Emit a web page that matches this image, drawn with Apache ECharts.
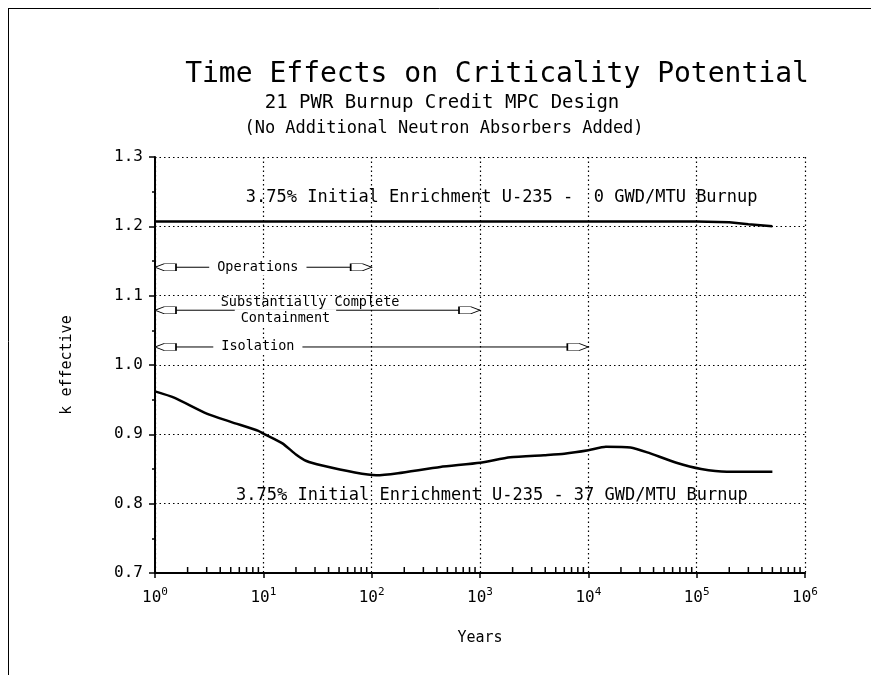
<!DOCTYPE html>
<html>
<head>
<meta charset="utf-8">
<script src="https://cdn.jsdelivr.net/npm/echarts@6/dist/echarts.min.js"></script>
<style>html,body{margin:0;padding:0;background:#fff}#c{width:871px;height:675px}</style>
</head>
<body>
<div id="c"></div>
<script>
// ---- data ----
const titleText = 'Time Effects on Criticality Potential';
const subtitle1 = '21 PWR Burnup Credit MPC Design';
const subtitle2 = '(No Additional Neutron Absorbers Added)';
const yTicks = [0.7, 0.8, 0.9, 1.0, 1.1, 1.2, 1.3];
const xDecades = [0, 1, 2, 3, 4, 5, 6];

const yearsFresh = [1, 100000, 200000, 300000, 500000];
const kFresh = [1.207, 1.207, 1.206, 1.203, 1.200];

const yearsBurned = [1, 1.5, 3, 5, 9, 10, 15, 20, 25, 35, 70, 110, 175, 430, 1000, 1900, 3900, 6000, 10000, 14500, 24500, 35000, 65000, 110000, 190000, 500000];
const kBurned = [0.962, 0.953, 0.930, 0.918, 0.905, 0.901, 0.887, 0.871, 0.8615, 0.855, 0.845, 0.841, 0.844, 0.853, 0.859, 0.867, 0.870, 0.872, 0.877, 0.882, 0.881, 0.874, 0.859, 0.850, 0.846, 0.846];

const curveLabels = ['3.75% Initial Enrichment U-235 -  0 GWD/MTU Burnup', '3.75% Initial Enrichment U-235 - 37 GWD/MTU Burnup'];

const periodNames = ['Operations', 'Substantially Complete\nContainment', 'Isolation'];
const periodStart = [1, 1, 1];
const periodEnd = [100, 1000, 10000];
const periodLevel = [1.141, 1.079, 1.026];

// ---- layout (not data) ----
const curveLabelAt = [[1585, 1.2408], [1290, 0.8123]];
// per label line: [x position (years), vertical offset in px]
const periodLabelAt = [[[8.9, 0]], [[27, -8], [16, 8]], [[8.9, 0]]];

const mono = '"DejaVu Sans Mono", monospace';
const minorTickYears = [];
for (let d = 0; d < 6; d++) for (let m = 2; m <= 9; m++) minorTickYears.push(m * Math.pow(10, d));

const leftArrow = 'path://M0,3.5 L9,0 L21,0 L21,7 L9,7 Z';
const rightArrow = 'path://M21,3.5 L12,0 L0,0 L0,7 L12,7 Z';

const series = [];
series.push({
  type: 'line', data: yearsFresh.map((x, i) => [x, kFresh[i]]),
  showSymbol: false, lineStyle: {color: '#000', width: 2.5}, z: 5, silent: true
});
series.push({
  type: 'line', data: yearsBurned.map((x, i) => [x, kBurned[i]]),
  showSymbol: false, smooth: 0.2, lineStyle: {color: '#000', width: 2.5}, z: 5, silent: true
});
periodNames.forEach((name, i) => {
  series.push({
    type: 'line', z: 6, silent: true,
    data: [
      {value: [periodStart[i], periodLevel[i]], symbol: leftArrow, symbolSize: [21, 7], symbolOffset: [10.5, 0]},
      {value: [periodEnd[i], periodLevel[i]], symbol: rightArrow, symbolSize: [21, 7], symbolOffset: [-10.5, 0]}
    ],
    showSymbol: true, showAllSymbol: true,
    lineStyle: {color: '#000', width: 1},
    itemStyle: {color: '#fff', borderColor: '#000', borderWidth: 1, opacity: 1}
  });
});
// period labels
const periodLabelData = [];
periodNames.forEach((n, i) => {
  const lines = n.split('\n');
  lines.forEach((ln, j) => {
    const at = periodLabelAt[i][j];
    const covers = (lines.length === 1) || j === 1;
    periodLabelData.push({
      value: [at[0], periodLevel[i]], name: ln,
      label: {
        offset: [0, at[1]],
        backgroundColor: covers ? '#fff' : 'transparent',
        padding: lines.length === 1 ? [1, 8] : (j === 1 ? [4, 6, 0, 6] : [0, 0])
      }
    });
  });
});
series.push({
  type: 'scatter', z: 8, silent: true, symbolSize: 0,
  itemStyle: {opacity: 1},
  data: periodLabelData,
  label: {
    show: true, position: 'inside', fontFamily: mono, fontSize: 13.5, color: '#000', opacity: 1,
    textBorderWidth: 0, formatter: p => p.name
  }
});
// curve labels
series.push({
  type: 'scatter', z: 8, silent: true, symbolSize: 0,
  itemStyle: {opacity: 1},
  data: curveLabels.map((n, i) => ({value: curveLabelAt[i], name: n})),
  label: {show: true, position: 'inside', fontFamily: mono, fontSize: 17, color: '#000', opacity: 1, textBorderWidth: 0, formatter: p => p.name}
});
// minor ticks on log axis
series.push({
  type: 'scatter', z: 9, silent: true,
  data: minorTickYears.map(x => [x, 0.7]),
  symbol: 'rect', symbolSize: [1.5, 5], symbolOffset: [0, -3.5],
  itemStyle: {color: '#000', opacity: 1}
});

const option = {
  animation: false,
  backgroundColor: '#fff',
  grid: {left: 155, right: 66, top: 157, bottom: 102},
  graphic: [
    {type: 'line', shape: {x1: 8.5, y1: 8, x2: 8.5, y2: 675}, style: {stroke: '#000', lineWidth: 1}},
    {type: 'line', shape: {x1: 8, y1: 8.5, x2: 871, y2: 8.5}, style: {stroke: '#000', lineWidth: 1}},
    {type: 'text', x: 497, y: 75, style: {text: titleText, font: '28px ' + mono, fill: '#000', textAlign: 'center', textVerticalAlign: 'middle'}},
    {type: 'text', x: 442, y: 103, style: {text: subtitle1, font: '19px ' + mono, fill: '#000', textAlign: 'center', textVerticalAlign: 'middle'}},
    {type: 'text', x: 444, y: 129, style: {text: subtitle2, font: '17px ' + mono, fill: '#000', textAlign: 'center', textVerticalAlign: 'middle'}}
  ],
  xAxis: {
    type: 'log', logBase: 10, min: 1, max: 1e6,
    name: 'Years', nameLocation: 'middle', nameGap: 58,
    nameTextStyle: {fontFamily: mono, fontSize: 15, color: '#000'},
    axisLine: {show: true, onZero: false, lineStyle: {color: '#000', width: 2}},
    axisTick: {show: true, inside: false, length: 5, lineStyle: {color: '#000', width: 1.5}},
    splitLine: {show: true, lineStyle: {color: '#000', type: [1.5, 3], width: 1.2}},
    axisLabel: {
      margin: 14, color: '#000', fontFamily: mono,
      formatter: v => '{b|10}{s|' + Math.round(Math.log10(v)) + '}',
      rich: {
        b: {fontFamily: mono, fontSize: 16, color: '#000'},
        s: {fontFamily: mono, fontSize: 11, color: '#000', padding: [0, 0, 11, 0]}
      }
    }
  },
  yAxis: {
    type: 'value', min: 0.7, max: 1.3, interval: 0.1,
    name: 'k effective', nameLocation: 'middle', nameGap: 80,
    nameTextStyle: {fontFamily: mono, fontSize: 15, color: '#000'},
    axisLine: {show: true, lineStyle: {color: '#000', width: 2}},
    axisTick: {show: true, inside: false, length: 6, lineStyle: {color: '#000', width: 1.5}},
    minorTick: {show: true, splitNumber: 2, length: 3, lineStyle: {color: '#000', width: 1.5}},
    splitLine: {show: true, lineStyle: {color: '#000', type: [1.5, 3], width: 1.2}},
    axisLabel: {margin: 12, color: '#000', fontFamily: mono, fontSize: 16, formatter: v => v.toFixed(1)}
  },
  series: series
};
echarts.init(document.getElementById('c')).setOption(option);
</script>
</body>
</html>
